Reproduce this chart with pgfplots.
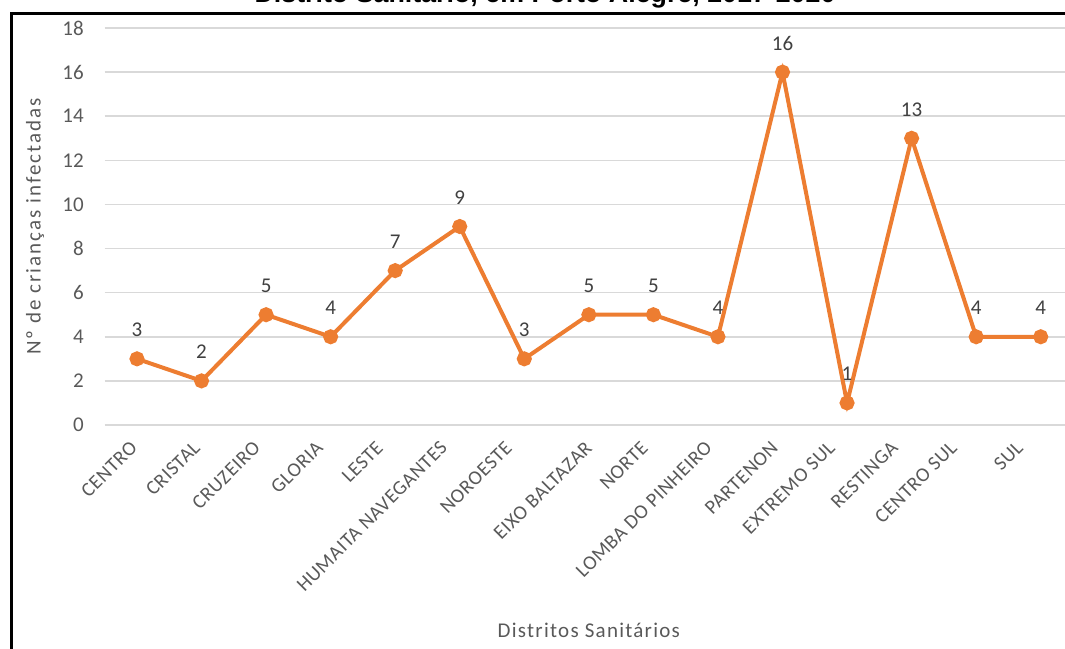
\documentclass[border=0pt]{standalone}
\usepackage{pgfplots}
\pgfplotsset{compat=1.18}
\usepackage{fontspec}
\setmainfont{Carlito}
\newfontfamily\titlefont{Liberation Sans}
\newfontfamily\axistitlefont[LetterSpace=6]{Carlito}
\newfontfamily\yaxistitlefont[LetterSpace=9.5]{Carlito}
\newfontfamily\categoryfont[LetterSpace=3]{Carlito}
\definecolor{lineorange}{HTML}{ED7D31}
\definecolor{gridgray}{HTML}{D9D9D9}
\definecolor{ticktext}{HTML}{595959}
\definecolor{labeltext}{HTML}{404040}
\begin{document}
\begin{tikzpicture}
\useasboundingbox (0,0) rectangle (532.5pt,324pt);
% title of the figure, partly above the page edge
\node[anchor=base, inner sep=0pt, font=\titlefont\bfseries\fontsize{13.4}{16}\selectfont]
  at (272.5pt,322.6pt) {Distrito Sanitário, em Porto Alegre, 2017-2020};
% frame around the chart
\draw[line width=1.5pt] (5.75pt,-20pt) -- (5.75pt,317pt) -- (560pt,317pt);
\begin{axis}[
  at={(52.35pt,111.5pt)}, anchor=south west,
  scale only axis, width=484.15pt, height=198.5pt,
  xmin=-0.5, xmax=14.5, ymin=0, ymax=18,
  ytick={0,2,...,18},
  % category labels sit slightly to the left of their points
  xtick={-0.046,0.929,1.858,2.834,3.763,4.755,5.761,7.0,7.867,8.859,
    9.881,10.764,11.739,12.653,13.675},
  xticklabels={CENTRO, CRISTAL, CRUZEIRO, GLORIA, LESTE, HUMAITA NAVEGANTES,
    NOROESTE, EIXO BALTAZAR, NORTE, LOMBA DO PINHEIRO, PARTENON, EXTREMO SUL,
    RESTINGA, CENTRO SUL, SUL},
  axis line style={draw=none}, major tick length=0pt,
  ymajorgrids, grid style={gridgray, line width=0.75pt},
  yticklabel style={font=\fontsize{10.5}{12}\selectfont, text=ticktext,
    anchor=east, inner sep=0pt, xshift=-10.3pt},
  xticklabel style={font=\categoryfont\fontsize{10}{12}\selectfont, text=ticktext,
    rotate=45, anchor=east, inner sep=0pt},
  xticklabel shift=9.75pt,
  /pgf/number format/assume math mode=true,
  xlabel={Distritos Sanitários},
  ylabel={Nº de crianças infectadas},
  label style={text=ticktext},
  xlabel style={font=\axistitlefont\fontsize{10.5}{12}\selectfont,
    at={(axis description cs:0.5,-0.5164)}, anchor=center},
  ylabel style={font=\yaxistitlefont\fontsize{10.5}{12}\selectfont,
    at={(axis description cs:-0.072,0.5)}, anchor=center},
  nodes near coords,
  nodes near coords style={font=\fontsize{10.5}{12}\selectfont, text=labeltext,
    anchor=base, inner sep=0pt, yshift=11pt},
  clip=false,
]
\addplot[lineorange, line width=2pt, mark=*, mark size=2.75pt,
  mark options={fill=lineorange, draw=lineorange}]
  coordinates {(0,3) (1,2) (2,5) (3,4) (4,7) (5,9) (6,3) (7,5) (8,5) (9,4)
    (10,16) (11,1) (12,13) (13,4) (14,4)};
\end{axis}
\end{tikzpicture}
\end{document}
